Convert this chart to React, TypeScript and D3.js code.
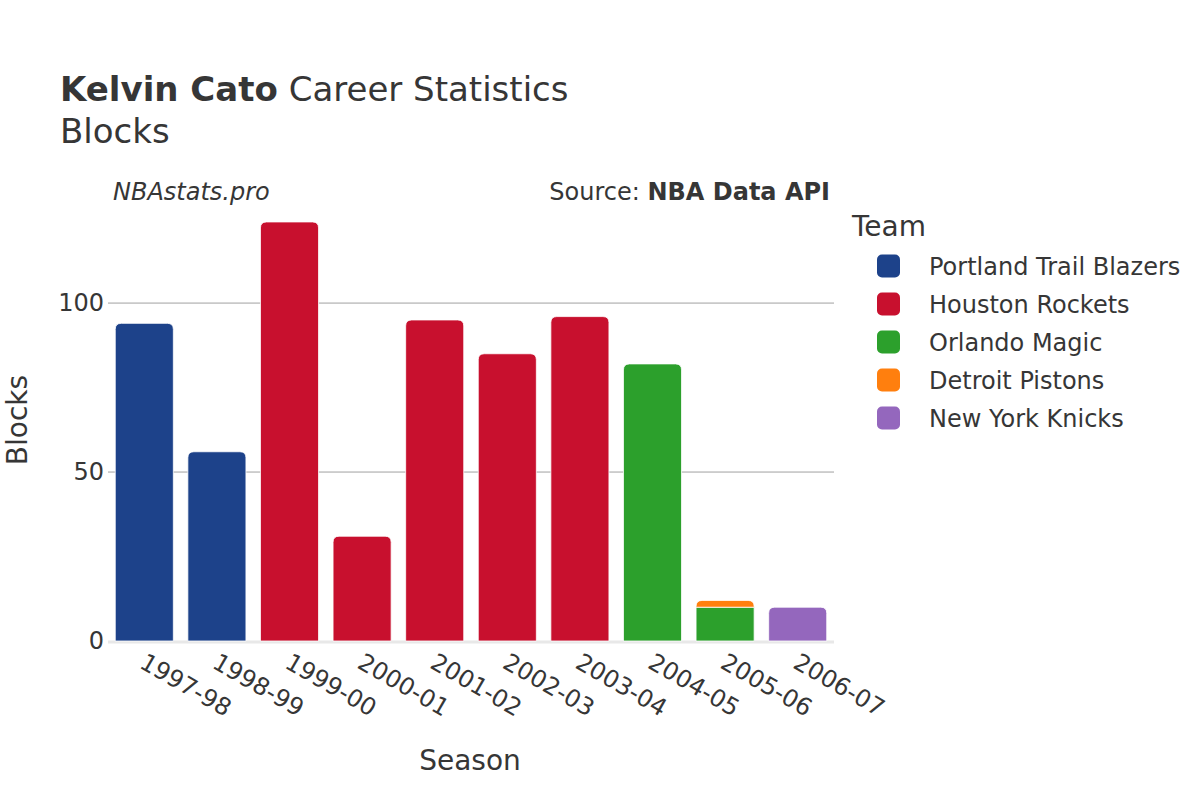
import React from "react";
import * as d3 from "d3";

const seasons = ["1997-98", "1998-99", "1999-00", "2000-01", "2001-02", "2002-03", "2003-04", "2004-05", "2005-06", "2006-07"];
const teams = ["Portland Trail Blazers", "Houston Rockets", "Orlando Magic", "Detroit Pistons", "New York Knicks"];
const teamColors = ["#1d428a", "#c8102e", "#2ca02c", "#ff7f0e", "#9467bd"];
const portland = [94, 56, 0, 0, 0, 0, 0, 0, 0, 0];
const houston = [0, 0, 124, 31, 95, 85, 96, 0, 0, 0];
const orlando = [0, 0, 0, 0, 0, 0, 0, 82, 10, 0];
const detroit = [0, 0, 0, 0, 0, 0, 0, 0, 2, 0];
const knicks = [0, 0, 0, 0, 0, 0, 0, 0, 0, 10];
const yTicks = [0, 50, 100];

const FONT = "DejaVu Sans, sans-serif";
const TEXT = "#363636";

export default function App() {
  const W = 1200, H = 800;
  const left = 108, right = 834, top = 200, bottom = 641;
  const x = d3.scaleBand().domain(seasons).range([left, right]).paddingInner(0.2).paddingOuter(0.1);
  const y = d3.scaleLinear().domain([0, 130.5]).range([bottom, top]);

  const rows = seasons.map((s, i) => ({
    season: s,
    [teams[0]]: portland[i],
    [teams[1]]: houston[i],
    [teams[2]]: orlando[i],
    [teams[3]]: detroit[i],
    [teams[4]]: knicks[i],
  }));
  const stack = d3.stack<any>().keys(teams)(rows);

  const topKey: Record<string, number> = {};
  stack.forEach((layer, li) => {
    layer.forEach((d, i) => {
      if (d[1] - d[0] > 0) topKey[seasons[i]] = li;
    });
  });

  const barPath = (x0: number, x1: number, y0: number, y1: number, r: number) => {
    const rr = Math.min(r, (y0 - y1), (x1 - x0) / 2);
    return `M${x0},${y0} L${x0},${y1 + rr} Q${x0},${y1} ${x0 + rr},${y1} L${x1 - rr},${y1} Q${x1},${y1} ${x1},${y1 + rr} L${x1},${y0} Z`;
  };

  return (
    <svg width={W} height={H} style={{ display: "block", position: "absolute", left: 0, top: 0 }} fontFamily={FONT}>
      <rect width={W} height={H} fill="#fff" />
      <text x={60} y={101} fontSize={34} fill={TEXT}>
        <tspan fontWeight="bold">Kelvin Cato</tspan>
        <tspan> Career Statistics</tspan>
      </text>
      <text x={60} y={143} fontSize={34} fill={TEXT}>Blocks</text>
      <text x={113} y={200} fontSize={24} fontStyle="italic" fill={TEXT}>NBAstats.pro</text>
      <text x={830} y={200} fontSize={24} textAnchor="end" fill={TEXT}>
        <tspan>Source: </tspan>
        <tspan fontWeight="bold">NBA Data API</tspan>
      </text>

      {yTicks.filter(t => t > 0).map(t => (
        <line key={t} x1={left} x2={right} y1={y(t)} y2={y(t)} stroke="#a0a0a0" strokeWidth={1} />
      ))}
      {yTicks.map(t => (
        <text key={"l" + t} x={104} y={y(t)} dy="0.35em" fontSize={24} textAnchor="end" fill={TEXT}>{t}</text>
      ))}
      <line x1={left} x2={right} y1={bottom + 1} y2={bottom + 1} stroke="#e8e8e8" strokeWidth={3} />

      {stack.map((layer, li) =>
        layer.map((d, i) => {
          if (d[1] - d[0] <= 0) return null;
          const x0 = x(seasons[i])!;
          const x1 = x0 + x.bandwidth();
          const isTop = topKey[seasons[i]] === li;
          return (
            <path key={li + "-" + i}
              d={barPath(x0, x1, y(d[0]), y(d[1]), isTop ? 6 : 0)}
              fill={teamColors[li]} stroke="#fff" strokeWidth={0.8} />
          );
        })
      )}

      {seasons.map(s => {
        const cx = x(s)! + x.bandwidth() / 2;
        return (
          <text key={s} transform={`translate(${cx - 2},${660}) rotate(30)`} fontSize={24} fill={TEXT} dominantBaseline="central">{s}</text>
        );
      })}

      <text x={470} y={770} fontSize={28} textAnchor="middle" fill={TEXT}>Season</text>
      <text transform={`translate(17,420) rotate(-90)`} fontSize={28} textAnchor="middle" fill={TEXT} dominantBaseline="central">Blocks</text>

      <text x={852} y={236} fontSize={28} fill={TEXT}>Team</text>
      {teams.map((t, i) => (
        <g key={t} transform={`translate(0,${266 + i * 38})`}>
          <rect x={877} y={-11.5} width={23} height={23} rx={5} fill={teamColors[i]} />
          <text x={929} y={1} dy="0.35em" fontSize={24} fill={TEXT}>{t}</text>
        </g>
      ))}
    </svg>
  );
}
